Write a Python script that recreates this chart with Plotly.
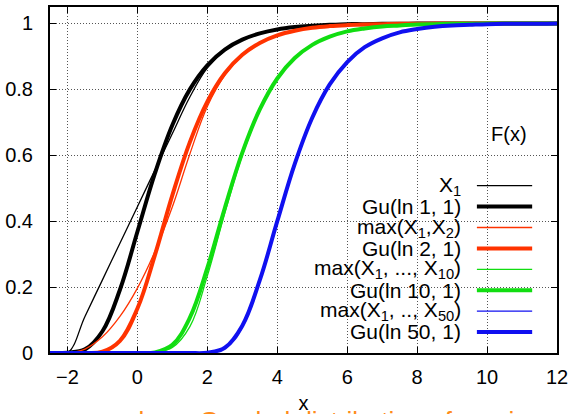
import plotly.graph_objects as go

# Sample points along x shared by every curve
x = [-2.5, -2, -1.5, -1, -0.5, 0, 0.5, 1, 1.5, 2, 2.5, 3, 3.5, 4, 4.5, 5,
     5.5, 6, 6.5, 7, 7.5, 8, 8.5, 9, 9.5, 10, 10.5, 11, 11.5, 12]

# Distribution functions F(x)
f_x1 = [0, 0, 0.111, 0.222, 0.333, 0.444, 0.555, 0.666, 0.777, 0.865, 0.918,
        0.950, 0.970, 0.982, 0.989, 0.993, 0.996, 0.998, 0.998, 0.999, 0.999,
        1, 1, 1, 1, 1, 1, 1, 1, 1]
gu_1 = [0, 0.001, 0.011, 0.066, 0.192, 0.368, 0.545, 0.692, 0.800, 0.873, 0.921,
        0.951, 0.970, 0.982, 0.989, 0.993, 0.996, 0.998, 0.998, 0.999, 0.999,
        1, 1, 1, 1, 1, 1, 1, 1, 1]
max_2 = [0, 0, 0.012, 0.049, 0.111, 0.197, 0.308, 0.444, 0.604, 0.748, 0.843,
         0.903, 0.941, 0.964, 0.978, 0.987, 0.992, 0.995, 0.997, 0.998, 0.999,
         0.999, 1, 1, 1, 1, 1, 1, 1, 1]
gu_2 = [0, 0, 0, 0.004, 0.037, 0.135, 0.297, 0.479, 0.640, 0.763, 0.849,
        0.905, 0.941, 0.964, 0.978, 0.987, 0.992, 0.995, 0.997, 0.998, 0.999,
        0.999, 1, 1, 1, 1, 1, 1, 1, 1]
max_10 = [0, 0, 0, 0, 0, 0, 0.003, 0.017, 0.080, 0.234, 0.425, 0.600, 0.736,
          0.831, 0.894, 0.935, 0.960, 0.975, 0.985, 0.991, 0.994, 0.997, 0.998,
          0.999, 0.999, 1, 1, 1, 1, 1]
gu_10 = [0, 0, 0, 0, 0, 0, 0.002, 0.025, 0.107, 0.258, 0.440, 0.608, 0.739,
         0.833, 0.895, 0.935, 0.960, 0.976, 0.985, 0.991, 0.994, 0.997, 0.998,
         0.999, 0.999, 1, 1, 1, 1, 1]
max_50 = [0, 0, 0, 0, 0, 0, 0, 0, 0, 0.001, 0.014, 0.078, 0.216, 0.397, 0.572,
          0.713, 0.815, 0.883, 0.928, 0.955, 0.973, 0.983, 0.990, 0.994, 0.996,
          0.998, 0.999, 0.999, 0.999, 1]
gu_50 = [0, 0, 0, 0, 0, 0, 0, 0, 0, 0.001, 0.016, 0.083, 0.221, 0.400, 0.574,
         0.714, 0.815, 0.883, 0.928, 0.955, 0.973, 0.983, 0.990, 0.994, 0.996,
         0.998, 0.999, 0.999, 0.999, 1]

labels = ["X<sub>1</sub>", "Gu(ln 1, 1)",
          "max(X<sub>1</sub>,X<sub>2</sub>)", "Gu(ln 2, 1)",
          "max(X<sub>1</sub>, ..., X<sub>10</sub>)", "Gu(ln 10, 1)",
          "max(X<sub>1</sub>, .., X<sub>50</sub>)", "Gu(ln 50, 1)"]
curves = [f_x1, gu_1, max_2, gu_2, max_10, gu_10, max_50, gu_50]

BLACK, RED, GREEN, BLUE = "#000000", "#ff3300", "#11dd11", "#1010f0"
colors = [BLACK, BLACK, RED, RED, GREEN, GREEN, BLUE, BLUE]
widths = [1.3, 4, 1.3, 4, 1.3, 4, 1.3, 4]

FONT = "Liberation Sans, Arial, sans-serif"

fig = go.Figure()
for name, y, c, w in zip(labels, curves, colors, widths):
    fig.add_trace(go.Scatter(x=x, y=y, mode="lines", name=name, showlegend=False,
                             line=dict(color=c, width=w, shape="spline", smoothing=1.1)))

# Hand-built key: right-aligned text with the line sample to its right
key_top, key_step = 0.4835, 0.0604
annotations = []
shapes = []
for i, (name, c, w) in enumerate(zip(labels, colors, widths)):
    yy = key_top - i * key_step
    annotations.append(dict(xref="paper", yref="paper", x=0.815, y=yy,
                            xanchor="right", yanchor="middle", text=name,
                            showarrow=False, font=dict(family=FONT, size=21, color="black")))
    shapes.append(dict(type="line", xref="paper", yref="paper", x0=0.842, x1=0.951,
                       y0=yy, y1=yy, line=dict(color=c, width=w)))

annotations.append(dict(xref="paper", yref="paper", x=0.905, y=0.634,
                        xanchor="center", yanchor="middle", text="F(x)", showarrow=False,
                        font=dict(family=FONT, size=20, color="black")))
# Caption line beneath the axis, running off the bottom of the page
annotations.append(dict(xref="paper", yref="paper", x=0.09, y=-0.146,
                        xanchor="left", yanchor="top",
                        text="scale → Gumbel distribution of maxima of iid variables",
                        showarrow=False, font=dict(family=FONT, size=26, color="#ff8c1a")))

axis_common = dict(showline=True, linecolor="black", linewidth=2, mirror="ticks",
                   ticks="inside", ticklen=6, tickwidth=1, tickcolor="black",
                   showgrid=True, gridcolor="#555555", gridwidth=1, griddash="1px,2px",
                   zeroline=False, layer="below traces", automargin=False,
                   tickfont=dict(family=FONT, size=20, color="black"))

fig.update_layout(
    width=573, height=414,
    margin=dict(l=50, r=16, t=7, b=61),
    paper_bgcolor="white", plot_bgcolor="white",
    showlegend=False,
    xaxis=dict(range=[-2.5, 12], tick0=0, dtick=2, ticklabelstandoff=5,
               title=dict(text="x", standoff=19, font=dict(family=FONT, size=20, color="black")),
               **axis_common),
    yaxis=dict(range=[0, 1.05], tick0=0, dtick=0.2, ticklabelstandoff=11,
               **axis_common),
    annotations=annotations,
    shapes=shapes,
)

fig.write_html("out.html")
